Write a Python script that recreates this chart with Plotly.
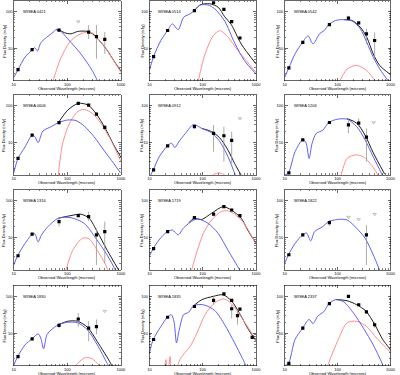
import plotly.graph_objects as go

# ---------------- data ----------------
NAMES = ["WISEA 0421", "WISEA 0514", "WISEA 0542", "WISEA 0606", "WISEA 0912", "WISEA 1206",
         "WISEA 1316", "WISEA 1719", "WISEA 1822", "WISEA 1830", "WISEA 1835", "WISEA 2337"]

# WISEA 0421
P0421_BLUE_W = [10, 12, 16.2, 22.4, 24.7, 27.7, 31.9, 40.6, 54, 62, 71.5, 102, 135, 179, 238, 290, 340, 420]
P0421_BLUE_F = [1.6, 2.6, 5.7, 9.2, 10.3, 8.4, 14, 19.6, 27, 32, 31, 18, 11.4, 7, 3.9, 2.5, 1.6, 0.8]
P0421_BLACK_W = [62, 71.5, 88, 117, 156, 222, 295, 420, 556, 736, 1000]
P0421_BLACK_F = [32, 31, 26.5, 24.7, 28.6, 29, 24.7, 14.7, 8.7, 4.6, 2.4]
P0421_RED_W = [48, 54, 77, 117, 179, 244, 310, 420, 556, 1000]
P0421_RED_F = [0.8, 1.31, 5.7, 16.2, 24.7, 27.4, 24.7, 14.5, 8.5, 2.2]
P0421_PT_W = [12, 22, 70, 250, 350, 500]
P0421_PT_F = [2.6, 9.2, 31, 27.4, 20.8, 17.3]
P0421_PT_LO = [2.4, 8.6, 28, 18, 5.2, 7]
P0421_PT_HI = [2.8, 9.8, 34, 43, 43, 27.5]
P0421_UL_W = [160]
P0421_UL_F = [53]

# WISEA 0514
P0514_BLUE_W = [10, 12, 16.4, 22, 27, 34.7, 44, 58.6, 70, 90, 127, 169, 259, 397, 607, 1000]
P0514_BLUE_F = [2.46, 5.9, 16.2, 30.4, 46, 32, 70, 87, 106, 150, 150, 118, 55, 14, 4.6, 2.0]
P0514_BLACK_W = [70, 90, 137, 195, 259, 344, 527, 1000]
P0514_BLACK_F = [106, 152, 162, 131, 72, 44, 13.1, 3.75]
P0514_RED_W = [78, 83, 111, 158, 210, 299, 457, 1000]
P0514_RED_F = [0.8, 1.31, 7, 22, 30, 20, 8.7, 2.2]
P0514_PT_W = [12, 22, 70, 160, 250, 350, 500]
P0514_PT_F = [5.9, 30.4, 106, 173, 114, 53, 19]
P0514_PT_LO = [5.6, 28, 98, 160, 105, 48, 17]
P0514_PT_HI = [6.2, 33, 114, 186, 123, 58, 21]
P0514_UL_W = []
P0514_UL_F = []

# WISEA 0542
P0542_BLUE_W = [10, 12, 15.7, 21.8, 27.7, 34.3, 45.5, 56, 68, 92, 131, 188, 267, 355, 470, 622, 880, 1000]
P0542_BLUE_F = [1.6, 2.9, 7, 14.5, 21.6, 13.1, 24.7, 30.4, 44, 57, 60, 55, 34, 14.6, 5.7, 2.75, 1.35, 1.1]
P0542_BLACK_W = [131, 188, 267, 355, 470, 622, 1000]
P0542_BLACK_F = [60, 57, 37.6, 20, 7, 3.4, 1.9]
P0542_RED_W = [105, 111, 151, 230, 355, 505, 560]
P0542_RED_F = [1.1, 1.31, 2.7, 3.4, 2.46, 1.31, 1.0]
P0542_PT_W = [12, 22, 70, 160, 250, 350, 500]
P0542_PT_F = [2.9, 14.5, 44, 66, 49, 24.7, 16.2]
P0542_PT_LO = [2.7, 13.5, 41, 57, 45, 13, 5.2]
P0542_PT_HI = [3.1, 15.5, 47, 77, 53, 34, 27]
P0542_UL_W = []
P0542_UL_F = []

# WISEA 0606
P0606_BLUE_W = [10, 12, 16.2, 22, 24.7, 28.5, 35, 50, 68, 102, 145, 207, 315, 480, 735, 980]
P0606_BLUE_F = [1.5, 3.7, 7.6, 15.8, 14.4, 10, 20.5, 27, 34.6, 41, 39.5, 28, 14.4, 6.2, 2.7, 1.5]
P0606_BLACK_W = [68, 102, 160, 245, 350, 500, 735, 1000]
P0606_BLACK_F = [34.6, 76, 116, 104, 59, 25.7, 8.6, 4]
P0606_RED_W = [66, 68, 82, 110, 156, 207, 295, 420, 645, 1000]
P0606_RED_F = [0.9, 1.4, 9.6, 33.6, 69, 79.6, 61, 33.6, 11.8, 3.1]
P0606_PT_W = [12, 22, 70, 160, 250, 350, 500]
P0606_PT_F = [3.7, 15.8, 34.6, 116, 104, 59, 25.7]
P0606_PT_LO = [3.4, 14.5, 31, 105, 95, 53, 22]
P0606_PT_HI = [4.0, 17, 38, 127, 113, 65, 30]
P0606_UL_W = []
P0606_UL_F = []

# WISEA 0912
P0912_BLUE_W = [10, 11.8, 15.3, 21.8, 26.2, 30, 35.7, 47.4, 68, 96, 147, 210, 299, 427]
P0912_BLUE_F = [1.1, 1.8, 4.1, 8.1, 9.6, 7.3, 10.5, 17.7, 31, 24.2, 18.4, 10.5, 4.1, 1.1]
P0912_BLACK_W = [96, 147, 210, 299, 397, 527]
P0912_BLACK_F = [24.2, 19.8, 13.3, 6.2, 2.7, 1.3]
P0912_RED_W = [130, 160, 200, 250, 320]
P0912_RED_F = [1.0, 1.35, 1.5, 1.35, 1.0]
P0912_PT_W = [12, 22, 70, 160, 250, 350]
P0912_PT_F = [1.8, 8.1, 27, 17.7, 15.3, 11.4]
P0912_PT_LO = [1.65, 7.5, 24, 5.6, 3, 2.7]
P0912_PT_HI = [1.95, 8.7, 31, 30, 27, 19.7]
P0912_UL_W = [500]
P0912_UL_F = [45]

# WISEA 1206
P1206_BLUE_W = [10, 11.8, 15.7, 21.8, 25, 28.9, 33, 39.5, 52.5, 68, 99, 151, 230, 330, 470, 667, 800]
P1206_BLUE_F = [1.3, 1.5, 5.6, 11.8, 10.4, 3.7, 9.6, 17.7, 21.6, 35, 43, 43, 27, 11.8, 4.1, 1.5, 0.9]
P1206_BLACK_W = [151, 230, 330, 470, 770]
P1206_BLACK_F = [44.6, 33.6, 15.8, 5.3, 1.4]
P1206_RED_W = [105, 111, 151, 216, 307, 440, 580, 640]
P1206_RED_F = [1.0, 1.1, 3.7, 4.6, 4.1, 2.4, 1.3, 1.0]
P1206_PT_W = [12, 22, 70, 160, 250, 350]
P1206_PT_F = [1.5, 11.8, 35, 30, 33.6, 14]
P1206_PT_LO = [1.4, 11, 32, 17.7, 27, 3]
P1206_PT_HI = [1.6, 12.6, 38, 39, 45, 24]
P1206_UL_W = [480]
P1206_UL_F = [35]

# WISEA 1316
P1316_BLUE_W = [10, 11.8, 16.2, 22, 24.7, 28.5, 33, 43.6, 68, 117, 207, 339, 556, 793, 900]
P1316_BLUE_F = [1.8, 3.2, 6.9, 12.3, 12.6, 7.6, 11.8, 19.8, 33.6, 34.6, 24.2, 9.6, 3.3, 1.3, 0.9]
P1316_BLACK_W = [68, 117, 179, 255, 362, 556, 910]
P1316_BLACK_F = [33.6, 39.5, 43, 33.6, 14.4, 4.5, 1.3]
P1316_RED_W = [80, 88, 126, 192, 255, 362, 520, 600]
P1316_RED_F = [0.8, 1.0, 4.5, 9.6, 9.2, 4.5, 1.8, 1.1]
P1316_PT_W = [12, 22, 70, 160, 250, 350, 500]
P1316_PT_F = [3.2, 12.3, 27, 39.3, 37, 11.8, 14.4]
P1316_PT_LO = [3.0, 11.5, 20, 36, 28, 1.8, 2]
P1316_PT_HI = [3.4, 13.1, 33, 43, 50, 17.7, 27]
P1316_UL_W = []
P1316_UL_F = []

# WISEA 1719
P1719_BLUE_W = [10, 11.8, 16.4, 21.8, 27, 34.7, 44, 68, 83, 127, 195, 299, 457, 560]
P1719_BLUE_F = [3.1, 5, 9.9, 14.4, 16, 11.8, 18.4, 30, 31.8, 24.2, 13, 4.5, 1.6, 1.0]
P1719_BLACK_W = [55, 68, 96, 147, 241, 344, 527, 699, 1000]
P1719_BLACK_F = [25, 33, 31, 45.7, 69, 56, 33.6, 16, 6.9]
P1719_RED_W = [55, 58.6, 78, 103, 147, 225, 299, 397, 566, 1000]
P1719_RED_F = [0.8, 1.0, 4.1, 13, 30, 51, 53, 43, 27, 6.7]
P1719_PT_W = [12, 22, 70, 160, 250, 350, 500]
P1719_PT_F = [5, 14.4, 34.6, 43, 69, 56, 39.5]
P1719_PT_LO = [4.7, 13.2, 31, 38, 63, 51, 35]
P1719_PT_HI = [5.3, 15.6, 38, 48, 75, 61, 44]
P1719_UL_W = []
P1719_UL_F = []

# WISEA 1822
P1822_BLUE_W = [10, 11.8, 15.7, 21.8, 25.8, 31, 36.7, 52.5, 68, 99, 151, 230, 330, 470, 622, 700]
P1822_BLUE_F = [2.0, 3.4, 6.9, 11.8, 13.3, 8.1, 14.4, 19.8, 27, 31, 30, 17.7, 9.6, 3.4, 1.3, 0.9]
P1822_BLACK_W = []
P1822_BLACK_F = []
P1822_RED_W = []
P1822_RED_F = []
P1822_PT_W = [12, 22, 70, 350]
P1822_PT_F = [3.4, 11.8, 25.4, 11.8]
P1822_PT_LO = [3.2, 11.1, 21, 1.8]
P1822_PT_HI = [3.6, 12.5, 30, 21.6]
P1822_UL_W = [160, 250, 500]
P1822_UL_F = [36, 31, 43]

# WISEA 1830
P1830_BLUE_W = [10, 11.8, 16.2, 22, 28.5, 31.9, 36, 41.7, 50, 68, 102, 156, 238, 362, 556, 650]
P1830_BLUE_F = [1.35, 2.3, 4.8, 7, 9.6, 7.3, 3.75, 9.2, 12.3, 16.9, 19.8, 19, 12.3, 4.8, 1.5, 1.0]
P1830_BLACK_W = [68, 102, 156, 238, 362, 645, 700]
P1830_BLACK_F = [16.9, 21, 21, 14.4, 5.9, 1.5, 1.1]
P1830_RED_W = [130, 145, 207, 275, 392, 430]
P1830_RED_F = [1.1, 1.35, 2.1, 2.1, 1.35, 1.1]
P1830_PT_W = [12, 22, 70, 160, 250, 350]
P1830_PT_F = [2.3, 7.0, 16.2, 24.2, 13.6, 15]
P1830_PT_LO = [2.15, 6.5, 13.5, 15, 6, 9.3]
P1830_PT_HI = [2.45, 7.5, 19, 35, 21, 23.5]
P1830_UL_W = [500]
P1830_UL_F = [39.5]

# WISEA 1835
P1835_BLUE_W = [10, 11.8, 16.4, 21.8, 25.8, 28.9, 32.3, 35.7, 44, 54.6, 68, 103, 169, 259, 397, 607, 700]
P1835_BLUE_F = [2.8, 6.7, 15, 27, 31.8, 21, 5.4, 11, 31.8, 37, 56, 59, 41, 16.9, 5.4, 1.6, 1.0]
P1835_BLACK_W = [68, 96, 158, 241, 344, 527, 699, 960, 1000]
P1835_BLACK_F = [56, 81, 100, 110, 76, 29, 13.6, 6.7, 6.2]
P1835_RED_W = [19, 20.5, 21.5, 23, 24.5, 26, 30, 38, 47, 58, 78, 111, 169, 241, 299, 397, 566, 960]
P1835_RED_F = [0.9, 1.9, 1.0, 1.2, 2.3, 0.9, 0.9, 2.0, 3.0, 4.3, 10, 32, 67, 85, 76, 50, 23.5, 7.3]
P1835_PT_W = [12, 22, 70, 160, 250, 350, 350, 450, 500, 850]
P1835_PT_F = [6.7, 27, 53, 78, 116, 78, 46, 30, 45, 7.7]
P1835_PT_LO = [6.3, 25, 49, 59, 108, 72, 25, 17, 41, 7.1]
P1835_PT_HI = [7.1, 29, 57, 100, 124, 84, 59, 43.5, 49, 8.3]
P1835_UL_W = []
P1835_UL_F = []

# WISEA 2337
P2337_BLUE_W = [10, 11.8, 15.7, 21.8, 28.9, 34.3, 42.3, 56, 68, 92, 131, 200, 307, 470, 667, 760]
P2337_BLUE_F = [1.3, 1.5, 6.7, 13.6, 23.5, 18.2, 29, 39.5, 63, 81, 70.5, 35, 13.6, 4.8, 1.7, 1.1]
P2337_BLACK_W = [92, 151, 230, 344, 504, 712, 980, 1000]
P2337_BLACK_F = [82, 76, 59, 39.5, 16.9, 6.7, 3.6, 3.4]
P2337_RED_W = [62, 65, 99, 151, 230, 355, 545, 1000]
P2337_RED_F = [1.0, 1.3, 5.9, 19, 21, 15, 7.3, 3.0]
P2337_PT_W = [12, 22, 70, 160, 250, 350, 500]
P2337_PT_F = [1.5, 13.6, 63, 100, 59, 37.6, 16.9]
P2337_PT_LO = [1.4, 12.8, 58, 92, 54, 34, 14]
P2337_PT_HI = [1.6, 14.4, 68, 108, 64, 41, 20]
P2337_UL_W = []
P2337_UL_F = []

X_TICKS = [10, 100, 1000]
X_TICK_TEXT = ["10", "100", "1000"]
Y_TICKS = [10, 100]
Y_TICK_TEXT = ["10", "100"]
X_TITLE = "Observed Wavelength (microns)"
Y_TITLE = "Flux Density (mJy)"

PANELS = [
    (P0421_BLUE_W, P0421_BLUE_F, P0421_BLACK_W, P0421_BLACK_F, P0421_RED_W, P0421_RED_F, P0421_PT_W, P0421_PT_F, P0421_PT_LO, P0421_PT_HI, P0421_UL_W, P0421_UL_F),
    (P0514_BLUE_W, P0514_BLUE_F, P0514_BLACK_W, P0514_BLACK_F, P0514_RED_W, P0514_RED_F, P0514_PT_W, P0514_PT_F, P0514_PT_LO, P0514_PT_HI, P0514_UL_W, P0514_UL_F),
    (P0542_BLUE_W, P0542_BLUE_F, P0542_BLACK_W, P0542_BLACK_F, P0542_RED_W, P0542_RED_F, P0542_PT_W, P0542_PT_F, P0542_PT_LO, P0542_PT_HI, P0542_UL_W, P0542_UL_F),
    (P0606_BLUE_W, P0606_BLUE_F, P0606_BLACK_W, P0606_BLACK_F, P0606_RED_W, P0606_RED_F, P0606_PT_W, P0606_PT_F, P0606_PT_LO, P0606_PT_HI, P0606_UL_W, P0606_UL_F),
    (P0912_BLUE_W, P0912_BLUE_F, P0912_BLACK_W, P0912_BLACK_F, P0912_RED_W, P0912_RED_F, P0912_PT_W, P0912_PT_F, P0912_PT_LO, P0912_PT_HI, P0912_UL_W, P0912_UL_F),
    (P1206_BLUE_W, P1206_BLUE_F, P1206_BLACK_W, P1206_BLACK_F, P1206_RED_W, P1206_RED_F, P1206_PT_W, P1206_PT_F, P1206_PT_LO, P1206_PT_HI, P1206_UL_W, P1206_UL_F),
    (P1316_BLUE_W, P1316_BLUE_F, P1316_BLACK_W, P1316_BLACK_F, P1316_RED_W, P1316_RED_F, P1316_PT_W, P1316_PT_F, P1316_PT_LO, P1316_PT_HI, P1316_UL_W, P1316_UL_F),
    (P1719_BLUE_W, P1719_BLUE_F, P1719_BLACK_W, P1719_BLACK_F, P1719_RED_W, P1719_RED_F, P1719_PT_W, P1719_PT_F, P1719_PT_LO, P1719_PT_HI, P1719_UL_W, P1719_UL_F),
    (P1822_BLUE_W, P1822_BLUE_F, P1822_BLACK_W, P1822_BLACK_F, P1822_RED_W, P1822_RED_F, P1822_PT_W, P1822_PT_F, P1822_PT_LO, P1822_PT_HI, P1822_UL_W, P1822_UL_F),
    (P1830_BLUE_W, P1830_BLUE_F, P1830_BLACK_W, P1830_BLACK_F, P1830_RED_W, P1830_RED_F, P1830_PT_W, P1830_PT_F, P1830_PT_LO, P1830_PT_HI, P1830_UL_W, P1830_UL_F),
    (P1835_BLUE_W, P1835_BLUE_F, P1835_BLACK_W, P1835_BLACK_F, P1835_RED_W, P1835_RED_F, P1835_PT_W, P1835_PT_F, P1835_PT_LO, P1835_PT_HI, P1835_UL_W, P1835_UL_F),
    (P2337_BLUE_W, P2337_BLUE_F, P2337_BLACK_W, P2337_BLACK_F, P2337_RED_W, P2337_RED_F, P2337_PT_W, P2337_PT_F, P2337_PT_LO, P2337_PT_HI, P2337_UL_W, P2337_UL_F),
]

# ---------------- layout geometry (pixels) ----------------
W, H = 400, 375
COL_X = [(12, 121), (150, 258.5), (287.7, 395.5)]
ROW_Y = [(0.5, 80.5), (94.7, 174.9), (189.7, 269.9), (285.3, 365.5)]
FONT = "Liberation Sans, Arial, sans-serif"
BLUE = "rgb(95,95,250)"
RED = "rgb(255,140,140)"
BLACK = "rgb(30,30,30)"
TXT = 4

minor_vals = [m * 10 ** e for e in range(0, 4) for m in range(2, 10)]

fig = go.Figure()
annotations = []
layout = dict(width=W, height=H, margin=dict(l=0, r=0, t=0, b=0),
              paper_bgcolor="white", plot_bgcolor="white", showlegend=False,
              font=dict(family=FONT, size=TXT, color="black"))

for i, (bw, bf, kw, kf, rw, rf, pw, pf, plo, phi, uw, uf) in enumerate(PANELS):
    r, c = divmod(i, 3)
    xs = "x" if i == 0 else f"x{i+1}"
    ys = "y" if i == 0 else f"y{i+1}"
    x0, x1 = COL_X[c]
    y0, y1 = ROW_Y[r]
    layout["xaxis" if i == 0 else f"xaxis{i+1}"] = dict(
        type="log", range=[1, 3], domain=[x0 / W, x1 / W], anchor=ys,
        showline=True, mirror="ticks", linecolor="black", linewidth=0.6,
        ticks="inside", ticklen=3, tickwidth=0.6, tickcolor="black",
        tickvals=X_TICKS, ticktext=X_TICK_TEXT, tickfont=dict(size=TXT),
        minor=dict(ticks="inside", ticklen=1.5, tickwidth=0.5, tickcolor="black", tickvals=minor_vals),
        showgrid=False, zeroline=False)
    layout["yaxis" if i == 0 else f"yaxis{i+1}"] = dict(
        type="log", range=[0.12, 2.3], domain=[1 - y1 / H, 1 - y0 / H], anchor=xs,
        showline=True, mirror="ticks", linecolor="black", linewidth=0.6,
        ticks="inside", ticklen=3, tickwidth=0.6, tickcolor="black",
        tickvals=Y_TICKS, ticktext=Y_TICK_TEXT, tickfont=dict(size=TXT),
        minor=dict(ticks="inside", ticklen=1.5, tickwidth=0.5, tickcolor="black", tickvals=minor_vals),
        showgrid=False, zeroline=False)

    line_kw = dict(shape="spline", smoothing=0.8, width=1)
    if kw:
        fig.add_trace(go.Scatter(x=kw, y=kf, mode="lines", line=dict(color=BLACK, **line_kw),
                                 xaxis=xs, yaxis=ys, hoverinfo="skip"))
    if rw:
        fig.add_trace(go.Scatter(x=rw, y=rf, mode="lines", line=dict(color=RED, **line_kw),
                                 xaxis=xs, yaxis=ys, hoverinfo="skip"))
    fig.add_trace(go.Scatter(x=bw, y=bf, mode="lines", line=dict(color=BLUE, **line_kw),
                             xaxis=xs, yaxis=ys, hoverinfo="skip"))
    fig.add_trace(go.Scatter(
        x=pw, y=pf, mode="markers",
        marker=dict(symbol="square", size=3.2, color="black"),
        error_y=dict(type="data", symmetric=False,
                     array=[h - f for h, f in zip(phi, pf)],
                     arrayminus=[f - l for l, f in zip(plo, pf)],
                     color="rgb(150,150,150)", thickness=0.8, width=0),
        xaxis=xs, yaxis=ys, hoverinfo="skip"))
    if uw:
        fig.add_trace(go.Scatter(x=uw, y=uf, mode="markers",
                                 marker=dict(symbol="triangle-down-open", size=3,
                                             color="rgb(150,150,150)", line=dict(width=0.6)),
                                 xaxis=xs, yaxis=ys, hoverinfo="skip"))

    # panel label
    annotations.append(dict(text=NAMES[i], x=(x0 + 7) / W, y=1 - (y0 + 11) / H,
                            xref="paper", yref="paper", xanchor="left", yanchor="middle",
                            showarrow=False, font=dict(size=TXT)))
    # x title
    annotations.append(dict(text=X_TITLE, x=(x0 + x1) / 2 / W, y=1 - (y1 + 8) / H,
                            xref="paper", yref="paper", xanchor="center", yanchor="middle",
                            showarrow=False, font=dict(size=TXT)))
    # y title
    yt_x = 2.2 if c == 0 else x0 - 7.5
    annotations.append(dict(text=Y_TITLE, x=yt_x / W, y=1 - (y0 + y1) / 2 / H,
                            xref="paper", yref="paper", xanchor="center", yanchor="middle",
                            textangle=-90, showarrow=False, font=dict(size=TXT)))

layout["annotations"] = annotations
fig.update_layout(**layout)
fig.write_html("out.html", config={"displayModeBar": False, "staticPlot": True},
               post_script="document.body.style.margin='0px';document.body.style.overflow='hidden';")
